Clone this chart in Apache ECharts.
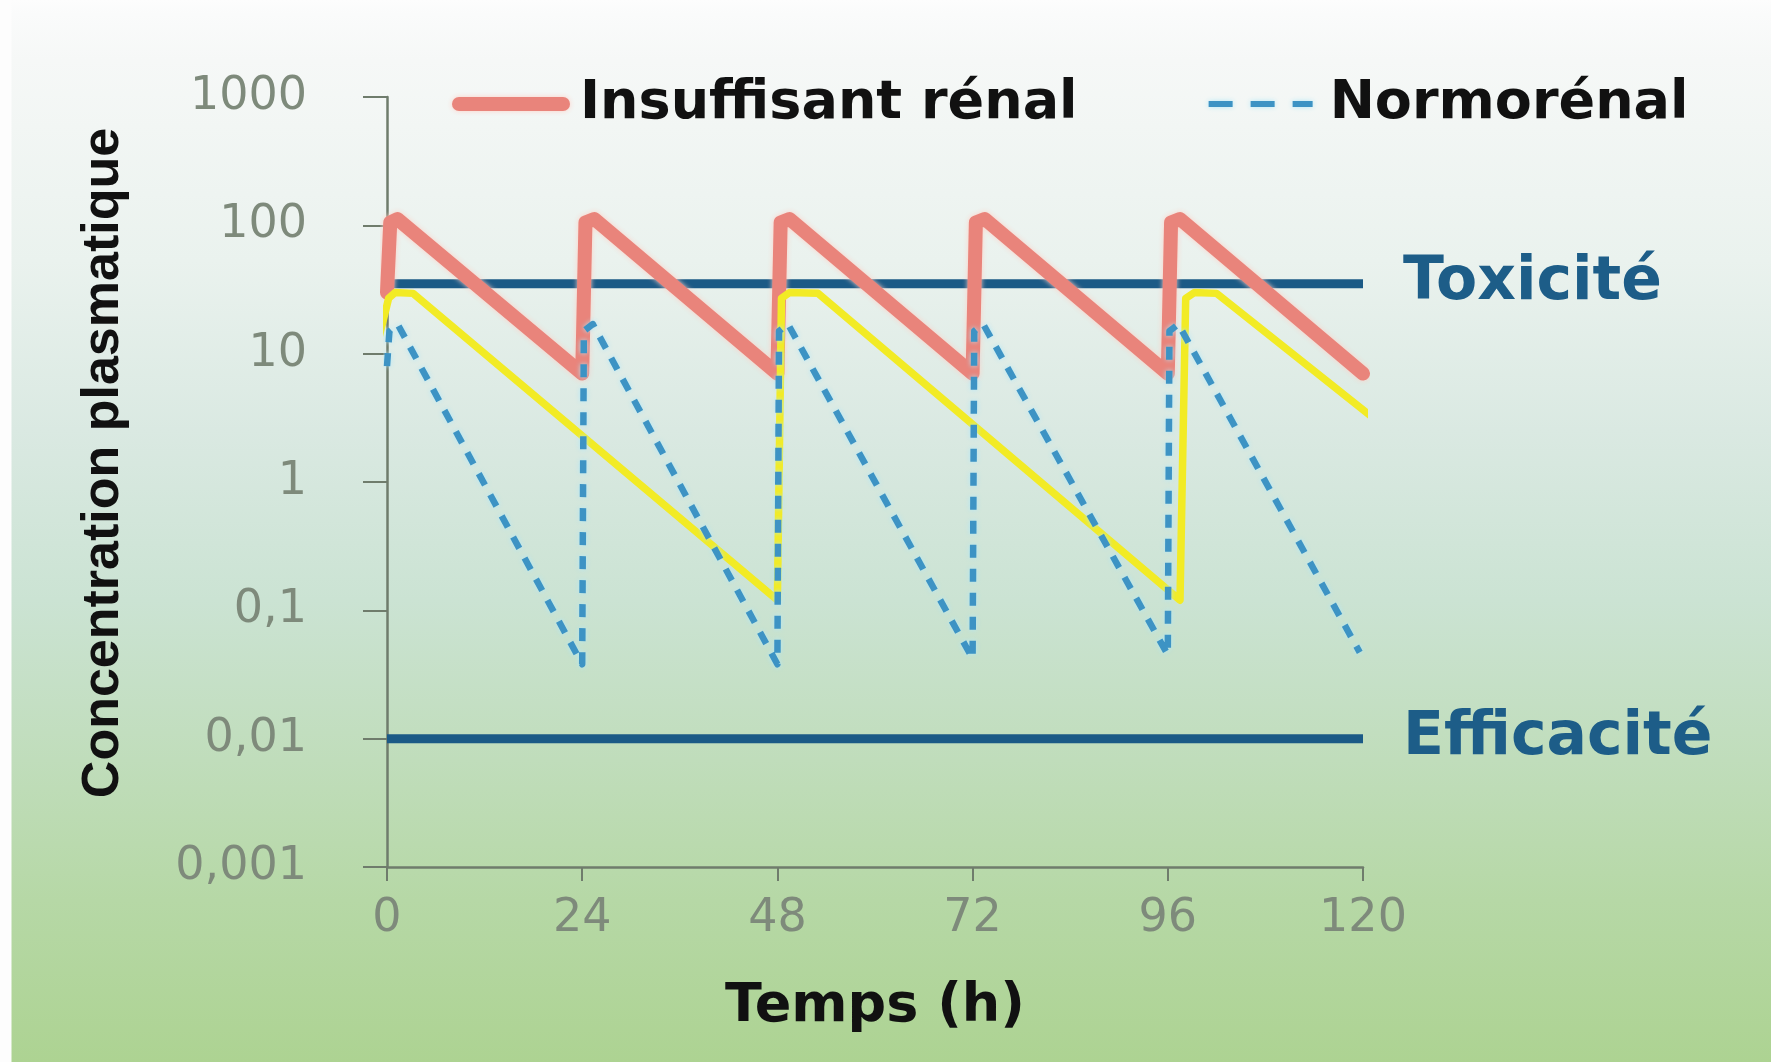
<!DOCTYPE html>
<html>
<head>
<meta charset="utf-8">
<script src="https://cdn.jsdelivr.net/npm/echarts@6/dist/echarts.min.js"></script>
<style>
  html, body { margin: 0; padding: 0; }
  #chart {
    width: 1771px; height: 1062px;
    background:
      linear-gradient(to right, #fdfdfd 0px, #fdfdfd 11px, rgba(255,255,255,0) 12px),
      linear-gradient(to bottom, #fdfdfd 0px, #fafbfb 14px, #f6f8f7 60px, #eaf2ee 260px, #dae9e2 430px, #cbe3d3 600px, #c0ddbb 760px, #b6d8a6 900px, #add392 1062px);
  }
</style>
</head>
<body>
<div id="chart"></div>
<script>
// ---- data ----
const timeTicks = [0, 24, 48, 72, 96, 120];
const yTickLabels = ['0,001', '0,01', '0,1', '1', '10', '100', '1000'];

const renalTime = [0, 0.4, 1.3, 24, 24.4, 25.5, 48, 48.4, 49.5, 72, 72.4, 73.5, 96, 96.4, 97.5, 120];
const renalConc = [30, 105, 112, 7, 105, 112, 7, 105, 112, 7, 105, 112, 7, 105, 112, 7];

const normoTime = [0, 0.3, 1.3, 24, 24.2, 25.3, 48, 48.2, 49.3, 72, 72.2, 73.3, 96, 96.2, 97.3, 119.6];
const normoConc = [8, 15, 17, 0.038, 15, 17, 0.038, 15, 17, 0.042, 15, 17, 0.045, 15, 17, 0.047];

const yellowTime = [-1.8, 0.2, 1, 3.2, 48, 48.5, 49.5, 53, 97.5, 98.2, 99.3, 102, 122.6];
const yellowConc = [8.2, 27, 30, 29.5, 0.12, 27, 30, 29.5, 0.12, 27, 30, 29.5, 2.7];

const toxicityLevel = 35;
const efficacyLevel = 0.01;

const seriesNames = ['Insuffisant rénal', 'Normorénal'];
const thresholdNames = ['Toxicité', 'Efficacité'];
const xAxisName = 'Temps (h)';
const yAxisName = 'Concentration plasmatique';

// ---- chart ----
const pair = (xs, ys) => xs.map((x, i) => [x, ys[i]]);
const axisColor = '#6f7c6c';
const tickColor = '#7e8a7b';
const thresholdColor = '#1b5a86';
const renalColor = '#e9847b';
const normoColor = '#3d93c4';

const chart = echarts.init(document.getElementById('chart'), null, { renderer: 'canvas' });

const thresholdSeries = (name, level) => ({
  name: name,
  type: 'line',
  data: [[timeTicks[0], level], [timeTicks[timeTicks.length - 1], level]],
  symbol: 'none',
  silent: true,
  z: 1,
  lineStyle: { color: thresholdColor, width: 9, cap: 'butt' },
  endLabel: {
    show: true,
    formatter: '{a}',
    distance: 40,
    color: '#1d5d88',
    fontFamily: 'DejaVu Sans',
    fontWeight: 'bold',
    fontSize: 60
  }
});

chart.setOption({
  backgroundColor: 'transparent',
  animation: false,
  legend: {
    data: [
      { name: seriesNames[0], lineStyle: { color: renalColor, width: 14, cap: 'round', shadowColor: 'rgba(255,205,195,0.95)', shadowBlur: 5 } },
      { name: seriesNames[1], lineStyle: { color: normoColor, width: 6, type: [24, 18], shadowColor: 'rgba(175,232,250,0.95)', shadowBlur: 5 } }
    ],
    left: 447,
    top: 72,
    itemWidth: 104,
    itemHeight: 16,
    itemGap: 128,
    itemStyle: { opacity: 0 },
    textStyle: {
      color: '#111111',
      fontFamily: 'DejaVu Sans',
      fontWeight: 'bold',
      fontSize: 54,
      padding: [0, 0, 0, 12]
    }
  },
  grid: { left: 387, right: 408, top: 97, bottom: 195, containLabel: false },
  xAxis: {
    type: 'value',
    min: 0,
    max: 120,
    interval: 24,
    name: xAxisName,
    nameLocation: 'middle',
    nameGap: 113,
    nameTextStyle: { color: '#111111', fontFamily: 'DejaVu Sans', fontWeight: 'bold', fontSize: 54 },
    axisLine: { show: true, lineStyle: { color: axisColor, width: 2.5 } },
    axisTick: { show: true, length: 14, lineStyle: { color: axisColor, width: 2 } },
    axisLabel: {
      margin: 29,
      color: tickColor,
      fontFamily: 'DejaVu Sans',
      fontSize: 46,
      formatter: (v) => String(timeTicks[timeTicks.indexOf(v)] ?? v)
    },
    splitLine: { show: false }
  },
  yAxis: {
    type: 'log',
    logBase: 10,
    min: 0.001,
    max: 1000,
    interval: 1,
    name: yAxisName,
    nameLocation: 'middle',
    nameGap: 257,
    nameTextStyle: {
      color: '#111111',
      fontFamily: 'Liberation Sans',
      fontWeight: 'bold',
      fontSize: 52,
      padding: [0, 0, 0, 38]
    },
    axisLine: { show: true, lineStyle: { color: axisColor, width: 2.5 } },
    axisTick: { show: true, length: 24, lineStyle: { color: axisColor, width: 2 } },
    axisLabel: {
      margin: 80,
      color: tickColor,
      fontFamily: 'DejaVu Sans',
      fontSize: 46,
      formatter: (v) => yTickLabels[Math.round(Math.log10(v)) + 3]
    },
    splitLine: { show: false }
  },
  series: [
    thresholdSeries(thresholdNames[0], toxicityLevel),
    thresholdSeries(thresholdNames[1], efficacyLevel),
    {
      name: seriesNames[0],
      type: 'line',
      data: pair(renalTime, renalConc),
      symbol: 'none',
      z: 3,
      lineStyle: {
        color: renalColor,
        width: 14,
        cap: 'round',
        join: 'round',
        shadowColor: 'rgba(255,205,195,0.95)',
        shadowBlur: 5
      }
    },
    {
      name: 'Série 3',
      type: 'line',
      data: pair(yellowTime, yellowConc),
      symbol: 'none',
      clip: false,
      z: 4,
      lineStyle: { color: '#f2eb25', width: 7.5, cap: 'round', join: 'round' }
    },
    {
      name: seriesNames[1],
      type: 'line',
      data: pair(normoTime, normoConc),
      symbol: 'none',
      z: 5,
      lineStyle: {
        color: normoColor,
        width: 6.5,
        type: [13, 11],
        join: 'round',
        shadowColor: 'rgba(175,232,250,0.95)',
        shadowBlur: 5
      }
    }
  ]
});
</script>
</body>
</html>
